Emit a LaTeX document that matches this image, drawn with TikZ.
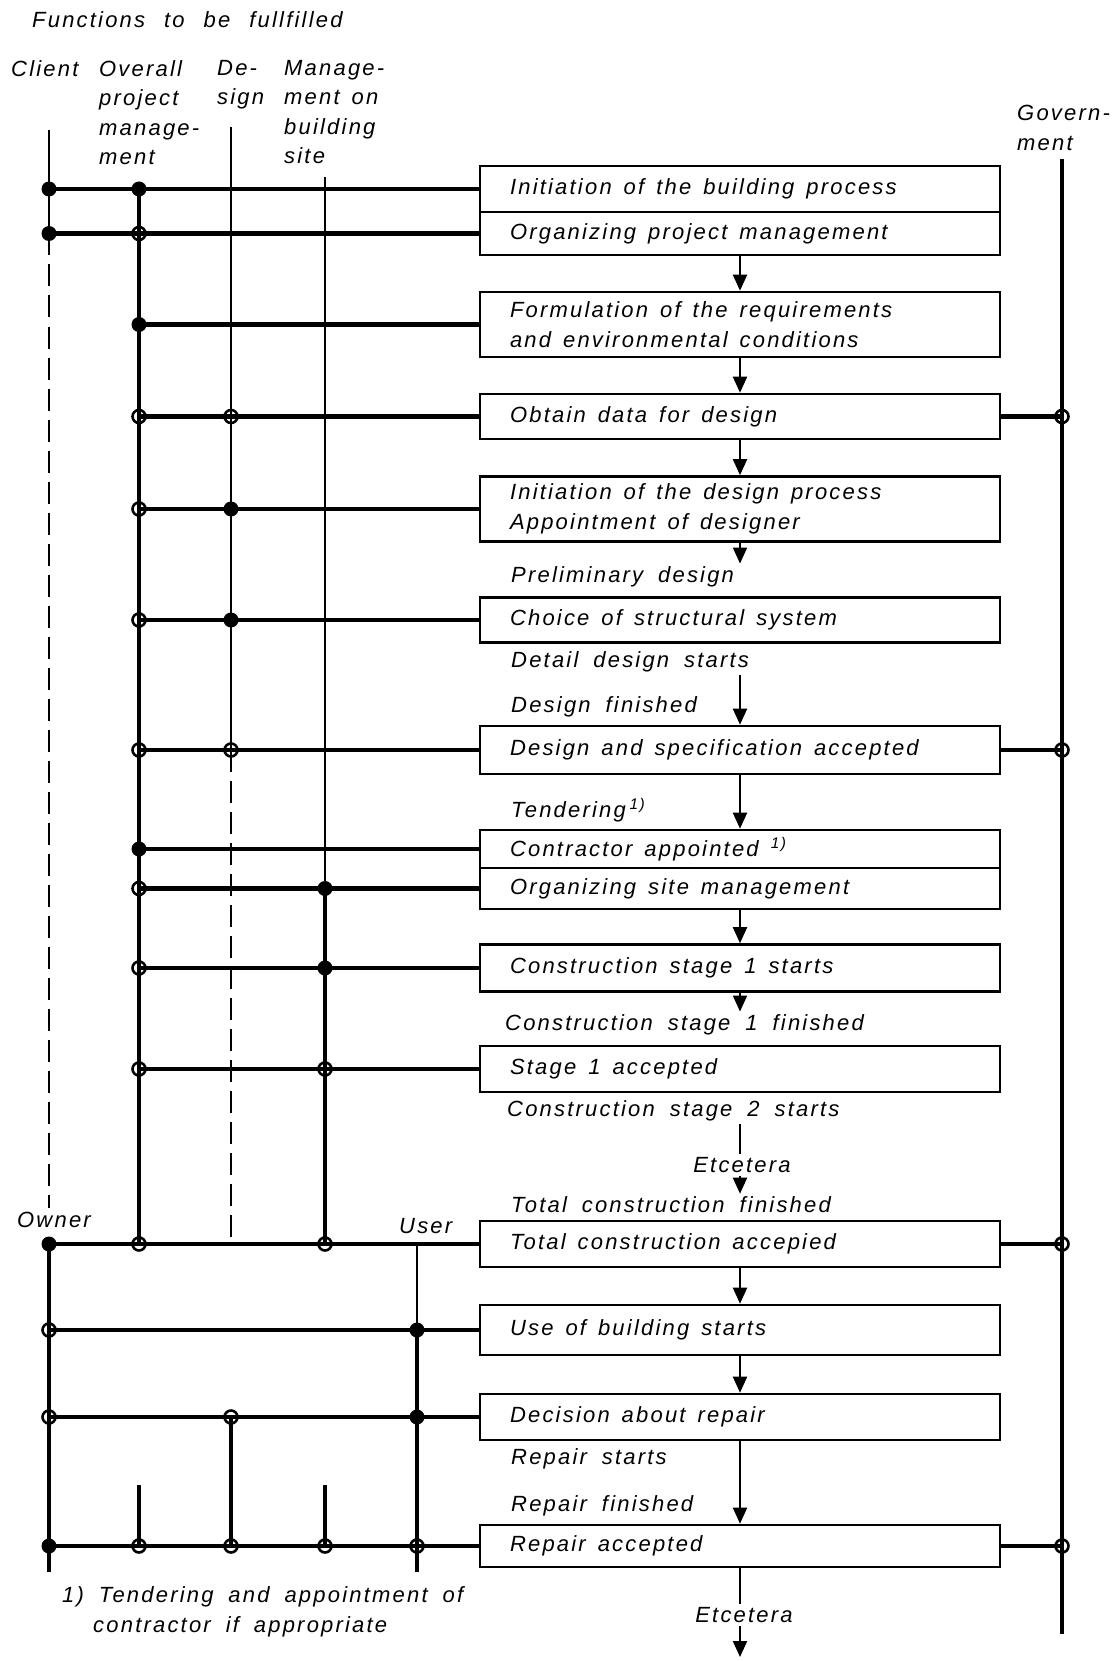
\documentclass[tikz,border=0pt]{standalone}
\usepackage{fontspec}
\newfontfamily\lettering{Liberation Sans}[LetterSpace=10,WordSpace=1.8]
\usetikzlibrary{arrows.meta}

\begin{document}
\begin{tikzpicture}[x=1pt, y=-1pt,
  stepbox/.style={draw, line width=2.6pt, minimum width=520pt, text width=460pt,
    inner xsep=30pt, inner ysep=0pt, align=left,
    font=\lettering\itshape\fontsize{22}{30}\selectfont,
    execute at begin node={\spaceskip=12pt plus 3pt minus 1pt\relax}},
  note/.style={inner sep=3pt, anchor=west,
    font=\lettering\itshape\fontsize{22}{30}\selectfont},
  head/.style={inner sep=0pt, anchor=north west, align=left,
    font=\lettering\itshape\fontsize{22}{29.5}\selectfont,
    execute at begin node={\spaceskip=12pt plus 3pt minus 1pt\relax}},
  bus/.style={line width=4.8pt},
  lane/.style={line width=1.9pt},
  gap/.style={line width=1.9pt, dash pattern=on 22pt off 9pt},
  flow/.style={line width=2pt, -{Triangle[width=14pt,length=16pt]}},
  fdot/.style={circle, fill, inner sep=0pt, minimum size=15pt},
  odot/.style={circle, draw, line width=2.6pt, inner sep=0pt, minimum size=13pt}]

\useasboundingbox (0,0) rectangle (1115,1661);

% headings
\node[head, execute at begin node={\spaceskip=19pt\relax}] (title) at (32,11) {Functions to be fullfilled};
\node[head] (hcl) at (11,60) {Client};
\node[head] (hop) at (99,60) {Overall\\project\\manage-\\ment};
\node[head] (hds) at (217,60) {De-\\sign};
\node[head] (hsm) at (284,60) {Manage-\\ment on\\building\\site};
\node[head] (hgv) at (1017,105) {Govern-\\ment};

% process steps
\node[stepbox, minimum height=46pt] (b1) at (740,189) {Initiation of the building process};
\node[stepbox, minimum height=43pt] (b2) at (740,233.5) {Organizing project management};
\node[stepbox, minimum height=65pt] (b3) at (740,324.5) {Formulation of the requirements\\and environmental conditions};
\node[stepbox, minimum height=45pt] (b4) at (740,416.5) {Obtain data for design};
\node[stepbox, minimum height=65pt] (b5) at (740,509) {Initiation of the design process\\Appointment of designer};
\node[stepbox, minimum height=45pt] (b6) at (740,620) {Choice of structural system};
\node[stepbox, minimum height=48pt] (b7) at (740,750) {Design and specification accepted};
\node[stepbox, minimum height=38pt] (b8) at (740,849) {Contractor appointed~\textsuperscript{1)}};
\node[stepbox, minimum height=41pt] (b9) at (740,888.5) {Organizing site management};
\node[stepbox, minimum height=47pt] (b10) at (740,968) {Construction stage 1 starts};
\node[stepbox, minimum height=46pt] (b11) at (740,1069) {Stage 1 accepted};
\node[stepbox, minimum height=46pt] (b12) at (740,1244) {Total construction accepied};
\node[stepbox, minimum height=50pt] (b13) at (740,1330) {Use of building starts};
\node[stepbox, minimum height=46pt] (b14) at (740,1417) {Decision about repair};
\node[stepbox, minimum height=42pt] (b15) at (740,1546) {Repair accepted};

% events between the steps
\node[note] (prelim) at (508,577) {Preliminary design};
\node[note] (detail) at (508,662) {Detail design starts};
\node[note] (dfin) at (508,707) {Design finished};
\node[note] (tender) at (508,810) {Tendering\,\textsuperscript{1)}};
\node[note] (fin1) at (502,1025) {Construction stage 1 finished};
\node[note] (start2) at (504,1111) {Construction stage 2 starts};
\node[note, anchor=center] (etc1) at (742,1165) {Etcetera};
\node[note] (totfin) at (508,1205) {Total construction finished};
\node[note] (rstart) at (508,1459) {Repair starts};
\node[note] (rfin) at (508,1506) {Repair finished};
\node[note, anchor=center] (etc2) at (744,1615) {Etcetera};
\node[note] (owner) at (14,1220) {Owner};
\node[note] (user) at (396,1226) {User};
\node[note] (fn1) at (59,1597) {1) Tendering and appointment of};
\node[note] (fn2) at (90,1627) {contractor if appropriate};

% lanes
\coordinate (cl) at (49,130);
\coordinate (op) at (139,189);
\coordinate (ds) at (231,127);
\coordinate (sm) at (325,177);
\coordinate (us) at (417,1244);
\coordinate (gv) at (1062,159);

% client and owner
\draw[lane] (cl) -- (cl |- b2.west);
\draw[gap] (cl |- b2.west) -- ++(0,974);
\draw[bus] (cl |- b12.west) -- (cl |- b15.west) -- ++(0,26);
% overall project management
\draw[bus] (op) -- (op |- b12.west);
\draw[bus] (op |- b15.west) -- ++(0,-61);
% design
\draw[lane] (ds) -- (ds |- b7.west);
\draw[gap] (ds |- b7.west) -- (ds |- b12.west);
\draw[bus] (ds |- b14.west) -- (ds |- b15.west);
% management on building site
\draw[lane] (sm) -- (sm |- b9.west);
\draw[bus] (sm |- b9.west) -- (sm |- b12.west);
\draw[bus] (sm |- b15.west) -- ++(0,-61);
% user
\draw[lane] (us) -- (us |- b13.west);
\draw[bus] (us |- b13.west) -- (us |- b15.west) -- ++(0,26);
% government
\draw[bus] (gv) -- ++(0,1475);

% links to the steps
\foreach \ln/\bx in {cl/b1, cl/b2, op/b3, op/b4, op/b5, op/b6, op/b7, op/b8, op/b9,
    op/b10, op/b11, cl/b12, cl/b13, cl/b14, cl/b15}
  \draw[bus] (\ln |- \bx.west) -- (\bx.west);
\foreach \bx in {b4, b7, b12, b15}{
  \draw[bus] (\bx.east) -- (gv |- \bx.east);
  \node[odot] at (gv |- \bx.east) {};
}
\foreach \ln/\bx in {cl/b1, op/b1, cl/b2, op/b3, ds/b5, ds/b6, op/b8, sm/b9, sm/b10,
    cl/b12, us/b13, us/b14, cl/b15}
  \node[fdot] at (\ln |- \bx.west) {};
\foreach \ln/\bx in {op/b2, op/b4, ds/b4, op/b5, op/b6, op/b7, ds/b7, op/b9, op/b10,
    op/b11, sm/b11, op/b12, sm/b12, cl/b13, cl/b14, ds/b14, op/b15, ds/b15, sm/b15, us/b15}
  \node[odot] at (\ln |- \bx.west) {};

% flow of the process
\draw[flow] (b2.south) -- (b3.north);
\draw[flow] (b3.south) -- (b4.north);
\draw[flow] (b4.south) -- (b5.north);
\draw[flow] (b5.south) -- (b5.south |- prelim.north);
\draw[flow] (b7.north |- detail.south) -- (b7.north);
\draw[flow] (b7.south) -- (b8.north);
\draw[flow] (b9.south) -- (b10.north);
\draw[flow] (b10.south) -- (b10.south |- fin1.north);
\draw[lane] (b11.south |- start2.south) -- (b11.south |- etc1.north);
\draw[flow] (b12.north |- etc1.south) -- (b12.north |- totfin.north);
\draw[flow] (b12.south) -- (b13.north);
\draw[flow] (b13.south) -- (b14.north);
\draw[flow] (b14.south) -- (b15.north);
\draw[lane] (b15.south) -- (b15.south |- etc2.north);
\coordinate (tail) at (740,1657);
\draw[flow] (b15.south |- etc2.south) -- (tail);
\end{tikzpicture}
\end{document}
